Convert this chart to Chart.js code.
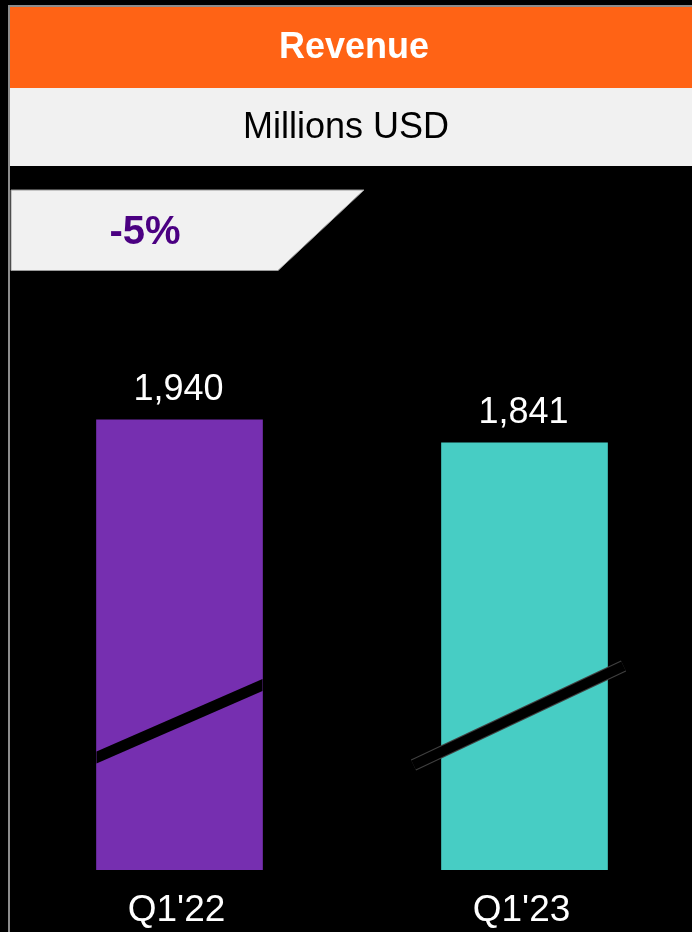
<!DOCTYPE html>
<html>
<head>
<meta charset="utf-8">
<script src="https://cdn.jsdelivr.net/npm/chart.js@4/dist/chart.umd.min.js"></script>
<style>
  html, body { margin: 0; padding: 0; background: #000; overflow: hidden; width: 692px; height: 932px; }
  #c { position: absolute; left: 0; top: 0; display: block; }
</style>
</head>
<body>
<canvas id="c" width="700" height="932"></canvas>
<script>
// ---- data ----
const categories = ["Q1'22", "Q1'23"];
const revenue = [1940, 1841];
const barColors = ["#762FB0", "#47CDC4"];
const titleText = "Revenue";
const unitText = "Millions USD";
const changeLabel = "-5%";
const yMin = 0;
const yMax = 2500;

const FONT = '"Liberation Sans", Arial, Helvetica, sans-serif';

// slash (broken-axis marks) style, relative to each bar's left/right edges and base
const slashStyles = [
  { x0: 0, y0: 112.5, x1: 0, y1: 185, thick: 12, clip: true },
  { x0: -28, y0: 105, x1: 16, y1: 204, thick: 12, clip: false }
];

const decor = {
  id: 'decor',
  beforeDraw(chart) {
    const ctx = chart.ctx;
    ctx.save();
    ctx.fillStyle = '#000';
    ctx.fillRect(0, 0, chart.width, chart.height);
    // top gray border line
    ctx.fillStyle = '#8c8c8c';
    ctx.fillRect(8, 5, chart.width, 2);
    // left gray border line
    ctx.fillRect(8, 5, 2, chart.height);
    // orange title band
    ctx.fillStyle = '#FF6315';
    ctx.fillRect(10, 7, chart.width, 81);
    // light gray unit band
    ctx.fillStyle = '#F1F1F1';
    ctx.fillRect(10, 88, chart.width, 78);
    // title text
    ctx.fillStyle = '#FFFFFF';
    ctx.font = 'bold 36px ' + FONT;
    ctx.textAlign = 'center';
    ctx.textBaseline = 'alphabetic';
    ctx.fillText(titleText, 354, 57.5);
    ctx.fillStyle = '#000000';
    ctx.font = '36px ' + FONT;
    ctx.fillText(unitText, 346, 137.5);
    // trapezoid change badge
    ctx.beginPath();
    ctx.moveTo(11, 190);
    ctx.lineTo(364, 190);
    ctx.lineTo(278, 270.5);
    ctx.lineTo(11, 270.5);
    ctx.closePath();
    ctx.fillStyle = '#F1F1F1';
    ctx.fill();
    ctx.strokeStyle = '#9a9a9a';
    ctx.lineWidth = 1;
    ctx.stroke();
    ctx.fillStyle = '#4B0082';
    ctx.font = 'bold 40px ' + FONT;
    ctx.fillText(changeLabel, 145, 244);
    ctx.restore();
  },
  afterDatasetsDraw(chart) {
    const ctx = chart.ctx;
    const meta = chart.getDatasetMeta(0);
    ctx.save();
    meta.data.forEach((bar, i) => {
      const left = bar.x - bar.width / 2;
      const right = bar.x + bar.width / 2;
      const base = bar.base;
      const s = slashStyles[i];
      if (s.clip) {
        ctx.beginPath();
        ctx.moveTo(left + s.x0, base - s.y0 - s.thick / 2);
        ctx.lineTo(right + s.x1, base - s.y1 - s.thick / 2);
        ctx.lineTo(right + s.x1, base - s.y1 + s.thick / 2);
        ctx.lineTo(left + s.x0, base - s.y0 + s.thick / 2);
        ctx.closePath();
        ctx.fillStyle = '#000';
        ctx.fill();
      } else {
        ctx.lineCap = 'butt';
        ctx.beginPath();
        ctx.moveTo(left + s.x0, base - s.y0);
        ctx.lineTo(right + s.x1, base - s.y1);
        ctx.strokeStyle = '#404040';
        ctx.lineWidth = s.thick;
        ctx.stroke();
        ctx.strokeStyle = '#000';
        ctx.lineWidth = s.thick - 2;
        ctx.stroke();
      }
      // value label
      ctx.fillStyle = '#FFFFFF';
      ctx.font = '36px ' + FONT;
      ctx.textAlign = 'center';
      ctx.textBaseline = 'alphabetic';
      ctx.fillText(revenue[i].toLocaleString('en-US'), bar.x - 1, bar.y - 20);
      // category label
      const xs = chart.scales.x;
      ctx.font = '37px ' + FONT;
      ctx.fillText(categories[i], xs.getPixelForValue(i) - 3, 921);
    });
    ctx.restore();
  }
};

new Chart(document.getElementById('c'), {
  type: 'bar',
  data: {
    labels: categories,
    datasets: [{
      data: revenue,
      backgroundColor: barColors,
      borderWidth: 0,
      barThickness: 166
    }]
  },
  options: {
    responsive: false,
    animation: false,
    devicePixelRatio: 1,
    layout: { padding: { left: 7, right: 3, top: 290, bottom: 62 } },
    plugins: { legend: { display: false }, tooltip: { enabled: false }, title: { display: false } },
    scales: {
      x: { display: false },
      y: { display: false, min: yMin, max: yMax }
    }
  },
  plugins: [decor]
});
</script>
</body>
</html>
